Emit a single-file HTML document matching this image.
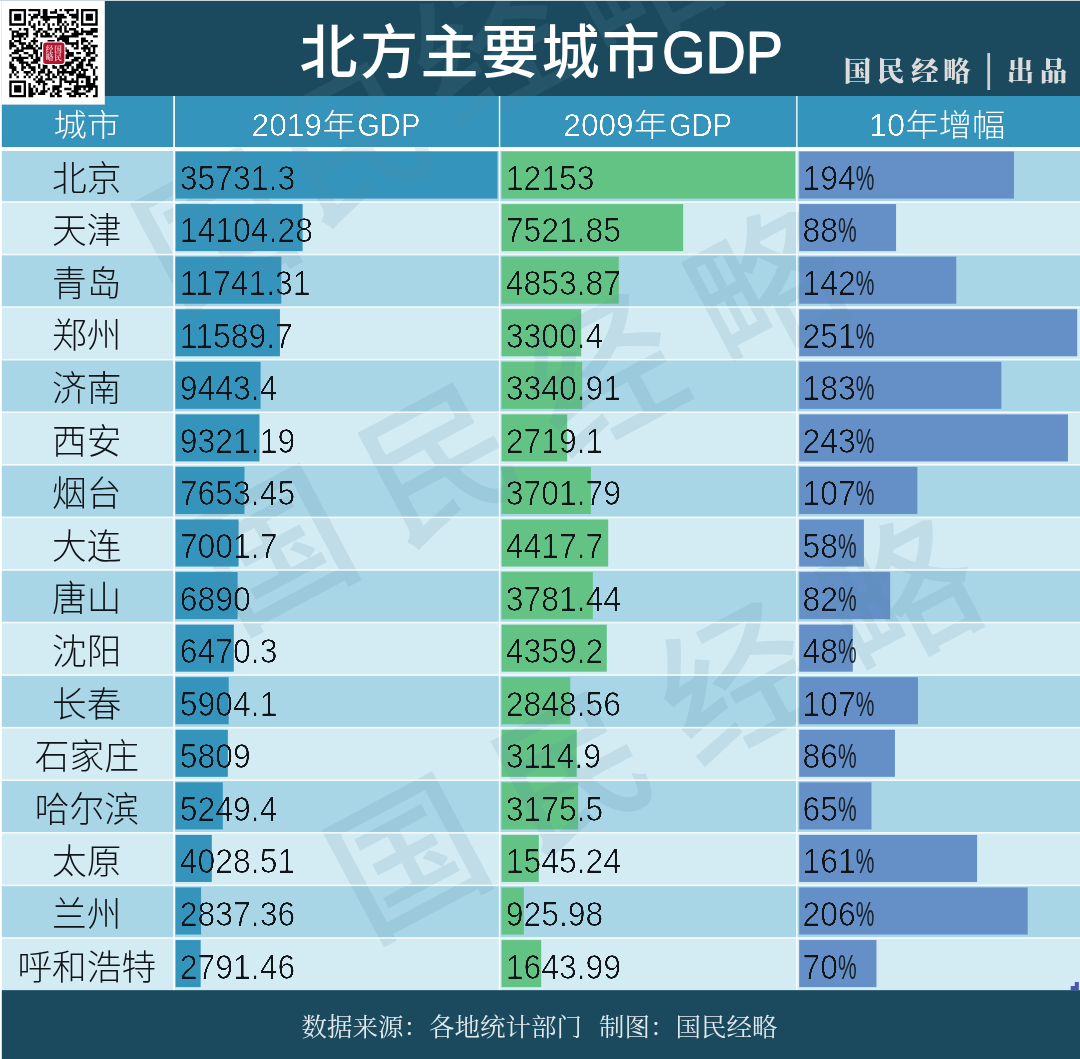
<!DOCTYPE html>
<html lang="zh-CN">
<head>
<meta charset="utf-8">
<title>北方主要城市GDP</title>
<style>
html,body{margin:0;padding:0;background:#1b4a5e;}
body{width:1080px;height:1059px;overflow:hidden;font-family:'Liberation Sans','Noto Sans CJK SC',sans-serif;}
svg{display:block;}
text{white-space:pre;}
</style>
</head>
<body>
<svg width="1080" height="1059" viewBox="0 0 1080 1059">
<defs>
<filter id="thinK" x="-2%" y="-10%" width="104%" height="120%" color-interpolation-filters="sRGB"><feGaussianBlur in="SourceAlpha" stdDeviation="0.6"/><feComponentTransfer result="t"><feFuncA type="linear" slope="3.2" intercept="-2.1"/></feComponentTransfer><feFlood flood-color="#101418"/><feComposite in2="t" operator="in"/></filter>
<filter id="thinW" x="-2%" y="-10%" width="104%" height="120%" color-interpolation-filters="sRGB"><feGaussianBlur in="SourceAlpha" stdDeviation="0.55"/><feComponentTransfer result="t"><feFuncA type="linear" slope="3" intercept="-1.7"/></feComponentTransfer><feFlood flood-color="#ffffff"/><feComposite in2="t" operator="in"/></filter>
</defs>
<rect x="0" y="0" width="1080" height="1059" fill="#1b4a5e"/>
<rect x="0" y="96" width="1080" height="51.5" fill="#3494bc"/>
<rect x="0" y="147" width="1080" height="5" fill="#ffffff"/>
<rect x="0" y="151.00" width="1080" height="50.97" fill="#a9d6e6"/>
<rect x="0" y="201.97" width="1080" height="52.57" fill="#d3ebf3"/>
<rect x="0" y="254.54" width="1080" height="52.57" fill="#a9d6e6"/>
<rect x="0" y="307.11" width="1080" height="52.57" fill="#d3ebf3"/>
<rect x="0" y="359.68" width="1080" height="52.57" fill="#a9d6e6"/>
<rect x="0" y="412.25" width="1080" height="52.57" fill="#d3ebf3"/>
<rect x="0" y="464.82" width="1080" height="52.57" fill="#a9d6e6"/>
<rect x="0" y="517.39" width="1080" height="52.57" fill="#d3ebf3"/>
<rect x="0" y="569.96" width="1080" height="52.57" fill="#a9d6e6"/>
<rect x="0" y="622.53" width="1080" height="52.57" fill="#d3ebf3"/>
<rect x="0" y="675.10" width="1080" height="52.57" fill="#a9d6e6"/>
<rect x="0" y="727.67" width="1080" height="52.57" fill="#d3ebf3"/>
<rect x="0" y="780.24" width="1080" height="52.57" fill="#a9d6e6"/>
<rect x="0" y="832.81" width="1080" height="52.57" fill="#d3ebf3"/>
<rect x="0" y="885.38" width="1080" height="52.57" fill="#a9d6e6"/>
<rect x="0" y="937.95" width="1080" height="52.57" fill="#d3ebf3"/>
<rect x="175.5" y="151.50" width="322.00" height="47.07" fill="#3494bc"/>
<rect x="501.5" y="151.50" width="293.50" height="47.07" fill="#63c384"/>
<rect x="799.2" y="151.50" width="214.74" height="47.07" fill="#648fc7"/>
<rect x="175.5" y="204.07" width="127.10" height="47.07" fill="#3494bc"/>
<rect x="501.5" y="204.07" width="181.66" height="47.07" fill="#63c384"/>
<rect x="799.2" y="204.07" width="96.86" height="47.07" fill="#648fc7"/>
<rect x="175.5" y="256.64" width="105.81" height="47.07" fill="#3494bc"/>
<rect x="501.5" y="256.64" width="117.22" height="47.07" fill="#63c384"/>
<rect x="799.2" y="256.64" width="157.06" height="47.07" fill="#648fc7"/>
<rect x="175.5" y="309.21" width="104.44" height="47.07" fill="#3494bc"/>
<rect x="501.5" y="309.21" width="79.71" height="47.07" fill="#63c384"/>
<rect x="799.2" y="309.21" width="278.00" height="47.07" fill="#648fc7"/>
<rect x="175.5" y="361.78" width="85.10" height="47.07" fill="#3494bc"/>
<rect x="501.5" y="361.78" width="80.68" height="47.07" fill="#63c384"/>
<rect x="799.2" y="361.78" width="202.18" height="47.07" fill="#648fc7"/>
<rect x="175.5" y="414.35" width="84.00" height="47.07" fill="#3494bc"/>
<rect x="501.5" y="414.35" width="65.67" height="47.07" fill="#63c384"/>
<rect x="799.2" y="414.35" width="268.75" height="47.07" fill="#648fc7"/>
<rect x="175.5" y="466.92" width="68.97" height="47.07" fill="#3494bc"/>
<rect x="501.5" y="466.92" width="89.40" height="47.07" fill="#63c384"/>
<rect x="799.2" y="466.92" width="118.16" height="47.07" fill="#648fc7"/>
<rect x="175.5" y="519.49" width="63.10" height="47.07" fill="#3494bc"/>
<rect x="501.5" y="519.49" width="106.69" height="47.07" fill="#63c384"/>
<rect x="799.2" y="519.49" width="64.74" height="47.07" fill="#648fc7"/>
<rect x="175.5" y="572.06" width="62.09" height="47.07" fill="#3494bc"/>
<rect x="501.5" y="572.06" width="91.32" height="47.07" fill="#63c384"/>
<rect x="799.2" y="572.06" width="90.99" height="47.07" fill="#648fc7"/>
<rect x="175.5" y="624.63" width="58.31" height="47.07" fill="#3494bc"/>
<rect x="501.5" y="624.63" width="105.28" height="47.07" fill="#63c384"/>
<rect x="799.2" y="624.63" width="53.60" height="47.07" fill="#648fc7"/>
<rect x="175.5" y="677.20" width="53.21" height="47.07" fill="#3494bc"/>
<rect x="501.5" y="677.20" width="68.79" height="47.07" fill="#63c384"/>
<rect x="799.2" y="677.20" width="118.73" height="47.07" fill="#648fc7"/>
<rect x="175.5" y="729.77" width="52.35" height="47.07" fill="#3494bc"/>
<rect x="501.5" y="729.77" width="75.23" height="47.07" fill="#63c384"/>
<rect x="799.2" y="729.77" width="95.73" height="47.07" fill="#648fc7"/>
<rect x="175.5" y="782.34" width="47.31" height="47.07" fill="#3494bc"/>
<rect x="501.5" y="782.34" width="76.69" height="47.07" fill="#63c384"/>
<rect x="799.2" y="782.34" width="72.29" height="47.07" fill="#648fc7"/>
<rect x="175.5" y="834.91" width="36.30" height="47.07" fill="#3494bc"/>
<rect x="501.5" y="834.91" width="37.32" height="47.07" fill="#63c384"/>
<rect x="799.2" y="834.91" width="177.88" height="47.07" fill="#648fc7"/>
<rect x="175.5" y="887.48" width="25.57" height="47.07" fill="#3494bc"/>
<rect x="501.5" y="887.48" width="22.36" height="47.07" fill="#63c384"/>
<rect x="799.2" y="887.48" width="228.48" height="47.07" fill="#648fc7"/>
<rect x="175.5" y="940.05" width="25.16" height="47.07" fill="#3494bc"/>
<rect x="501.5" y="940.05" width="39.70" height="47.07" fill="#63c384"/>
<rect x="799.2" y="940.05" width="77.26" height="47.07" fill="#648fc7"/>
<g id="wm" font-family="'Liberation Sans','Noto Sans CJK SC',sans-serif" font-weight="500" font-size="150" fill="#5a8cab" fill-opacity="0.16" text-anchor="middle">
<text transform="translate(215.0,230.0) rotate(-28.0)" y="57.0">国</text>
<text transform="translate(352.0,140.0) rotate(-28.0)" y="57.0">民</text>
<text transform="translate(489.0,46.0) rotate(-28.0)" y="57.0">经</text>
<text transform="translate(640.0,-28.0) rotate(-28.0)" y="57.0">略</text>
<text transform="translate(273.7,548.0) rotate(-28.0)" y="57.0">国</text>
<text transform="translate(437.9,460.7) rotate(-28.0)" y="57.0">民</text>
<text transform="translate(602.1,373.3) rotate(-28.0)" y="57.0">经</text>
<text transform="translate(766.3,286.0) rotate(-28.0)" y="57.0">略</text>
<text transform="translate(406.7,856.5) rotate(-28.0)" y="57.0">国</text>
<text transform="translate(570.9,769.2) rotate(-28.0)" y="57.0">民</text>
<text transform="translate(735.1,681.8) rotate(-28.0)" y="57.0">经</text>
<text transform="translate(899.3,594.5) rotate(-28.0)" y="57.0">略</text>
</g>
<rect x="0" y="201.17" width="1080" height="1.6" fill="#ffffff" fill-opacity="0.9"/>
<rect x="0" y="253.74" width="1080" height="1.6" fill="#ffffff" fill-opacity="0.9"/>
<rect x="0" y="306.31" width="1080" height="1.6" fill="#ffffff" fill-opacity="0.9"/>
<rect x="0" y="358.88" width="1080" height="1.6" fill="#ffffff" fill-opacity="0.9"/>
<rect x="0" y="411.45" width="1080" height="1.6" fill="#ffffff" fill-opacity="0.9"/>
<rect x="0" y="464.02" width="1080" height="1.6" fill="#ffffff" fill-opacity="0.9"/>
<rect x="0" y="516.59" width="1080" height="1.6" fill="#ffffff" fill-opacity="0.9"/>
<rect x="0" y="569.16" width="1080" height="1.6" fill="#ffffff" fill-opacity="0.9"/>
<rect x="0" y="621.73" width="1080" height="1.6" fill="#ffffff" fill-opacity="0.9"/>
<rect x="0" y="674.30" width="1080" height="1.6" fill="#ffffff" fill-opacity="0.9"/>
<rect x="0" y="726.87" width="1080" height="1.6" fill="#ffffff" fill-opacity="0.9"/>
<rect x="0" y="779.44" width="1080" height="1.6" fill="#ffffff" fill-opacity="0.9"/>
<rect x="0" y="832.01" width="1080" height="1.6" fill="#ffffff" fill-opacity="0.9"/>
<rect x="0" y="884.58" width="1080" height="1.6" fill="#ffffff" fill-opacity="0.9"/>
<rect x="0" y="937.15" width="1080" height="1.6" fill="#ffffff" fill-opacity="0.9"/>
<rect x="173.2" y="96" width="1.8" height="894.5" fill="#ffffff" fill-opacity="0.95"/>
<rect x="498.8" y="96" width="1.5" height="894" fill="#ffffff" fill-opacity="0.9"/>
<rect x="796.1" y="96" width="1.5" height="894" fill="#ffffff" fill-opacity="0.9"/>
<rect x="0" y="990.3" width="1080" height="69" fill="#1b4a5e"/>
<path d="M1074.8 982.1h4v7.9h-8.1v-4h4.1z" fill="#4a56b2"/>
<rect x="0" y="0" width="1.8" height="1059" fill="#ffffff"/>
<rect x="0" y="0" width="1080" height="1" fill="#c9d6dc"/>
<rect x="1.5" y="1" width="103.3" height="103.6" fill="#ffffff"/>
<path fill="#000000" d="M9.30 8.90h16.72v2.39h-16.72zM28.41 8.90h11.95v2.39h-11.95zM42.75 8.90h4.78v2.39h-4.78zM54.69 8.90h2.39v2.39h-2.39zM59.47 8.90h2.39v2.39h-2.39zM64.25 8.90h9.56v2.39h-9.56zM76.20 8.90h2.39v2.39h-2.39zM80.98 8.90h16.72v2.39h-16.72zM9.30 11.29h2.39v2.39h-2.39zM23.64 11.29h2.39v2.39h-2.39zM37.97 11.29h2.39v2.39h-2.39zM42.75 11.29h4.78v2.39h-4.78zM49.92 11.29h7.17v2.39h-7.17zM66.64 11.29h2.39v2.39h-2.39zM76.20 11.29h2.39v2.39h-2.39zM80.98 11.29h2.39v2.39h-2.39zM95.31 11.29h2.39v2.39h-2.39zM9.30 13.68h2.39v2.39h-2.39zM14.08 13.68h7.17v2.39h-7.17zM23.64 13.68h2.39v2.39h-2.39zM28.41 13.68h2.39v2.39h-2.39zM33.19 13.68h7.17v2.39h-7.17zM42.75 13.68h4.78v2.39h-4.78zM57.08 13.68h7.17v2.39h-7.17zM69.03 13.68h9.56v2.39h-9.56zM80.98 13.68h2.39v2.39h-2.39zM85.75 13.68h7.17v2.39h-7.17zM95.31 13.68h2.39v2.39h-2.39zM9.30 16.07h2.39v2.39h-2.39zM14.08 16.07h7.17v2.39h-7.17zM23.64 16.07h2.39v2.39h-2.39zM30.80 16.07h7.17v2.39h-7.17zM40.36 16.07h26.28v2.39h-26.28zM71.42 16.07h7.17v2.39h-7.17zM80.98 16.07h2.39v2.39h-2.39zM85.75 16.07h7.17v2.39h-7.17zM95.31 16.07h2.39v2.39h-2.39zM9.30 18.46h2.39v2.39h-2.39zM14.08 18.46h7.17v2.39h-7.17zM23.64 18.46h2.39v2.39h-2.39zM30.80 18.46h2.39v2.39h-2.39zM42.75 18.46h7.17v2.39h-7.17zM57.08 18.46h4.78v2.39h-4.78zM76.20 18.46h2.39v2.39h-2.39zM80.98 18.46h2.39v2.39h-2.39zM85.75 18.46h7.17v2.39h-7.17zM95.31 18.46h2.39v2.39h-2.39zM9.30 20.85h2.39v2.39h-2.39zM23.64 20.85h2.39v2.39h-2.39zM28.41 20.85h2.39v2.39h-2.39zM37.97 20.85h2.39v2.39h-2.39zM45.14 20.85h2.39v2.39h-2.39zM57.08 20.85h4.78v2.39h-4.78zM64.25 20.85h2.39v2.39h-2.39zM71.42 20.85h4.78v2.39h-4.78zM80.98 20.85h2.39v2.39h-2.39zM95.31 20.85h2.39v2.39h-2.39zM9.30 23.24h16.72v2.39h-16.72zM28.41 23.24h2.39v2.39h-2.39zM33.19 23.24h2.39v2.39h-2.39zM37.97 23.24h2.39v2.39h-2.39zM42.75 23.24h2.39v2.39h-2.39zM47.53 23.24h2.39v2.39h-2.39zM52.31 23.24h2.39v2.39h-2.39zM57.08 23.24h2.39v2.39h-2.39zM61.86 23.24h2.39v2.39h-2.39zM66.64 23.24h2.39v2.39h-2.39zM71.42 23.24h2.39v2.39h-2.39zM76.20 23.24h2.39v2.39h-2.39zM80.98 23.24h16.72v2.39h-16.72zM30.80 25.62h4.78v2.39h-4.78zM47.53 25.62h2.39v2.39h-2.39zM59.47 25.62h2.39v2.39h-2.39zM64.25 25.62h2.39v2.39h-2.39zM76.20 25.62h2.39v2.39h-2.39zM9.30 28.01h2.39v2.39h-2.39zM18.86 28.01h2.39v2.39h-2.39zM23.64 28.01h4.78v2.39h-4.78zM33.19 28.01h2.39v2.39h-2.39zM37.97 28.01h4.78v2.39h-4.78zM47.53 28.01h4.78v2.39h-4.78zM54.69 28.01h7.17v2.39h-7.17zM64.25 28.01h2.39v2.39h-2.39zM69.03 28.01h7.17v2.39h-7.17zM80.98 28.01h2.39v2.39h-2.39zM90.53 28.01h7.17v2.39h-7.17zM11.69 30.40h7.17v2.39h-7.17zM26.02 30.40h2.39v2.39h-2.39zM35.58 30.40h4.78v2.39h-4.78zM42.75 30.40h4.78v2.39h-4.78zM54.69 30.40h2.39v2.39h-2.39zM59.47 30.40h2.39v2.39h-2.39zM64.25 30.40h4.78v2.39h-4.78zM73.81 30.40h4.78v2.39h-4.78zM80.98 30.40h16.72v2.39h-16.72zM11.69 32.79h2.39v2.39h-2.39zM16.47 32.79h11.95v2.39h-11.95zM33.19 32.79h4.78v2.39h-4.78zM40.36 32.79h2.39v2.39h-2.39zM45.14 32.79h4.78v2.39h-4.78zM52.31 32.79h2.39v2.39h-2.39zM61.86 32.79h2.39v2.39h-2.39zM71.42 32.79h11.95v2.39h-11.95zM85.75 32.79h7.17v2.39h-7.17zM11.69 35.18h11.95v2.39h-11.95zM26.02 35.18h2.39v2.39h-2.39zM35.58 35.18h2.39v2.39h-2.39zM40.36 35.18h11.95v2.39h-11.95zM54.69 35.18h2.39v2.39h-2.39zM59.47 35.18h19.11v2.39h-19.11zM92.92 35.18h4.78v2.39h-4.78zM11.69 37.57h2.39v2.39h-2.39zM18.86 37.57h2.39v2.39h-2.39zM23.64 37.57h2.39v2.39h-2.39zM33.19 37.57h2.39v2.39h-2.39zM57.08 37.57h11.95v2.39h-11.95zM80.98 37.57h4.78v2.39h-4.78zM9.30 39.96h2.39v2.39h-2.39zM14.08 39.96h7.17v2.39h-7.17zM30.80 39.96h7.17v2.39h-7.17zM47.53 39.96h7.17v2.39h-7.17zM57.08 39.96h2.39v2.39h-2.39zM61.86 39.96h7.17v2.39h-7.17zM76.20 39.96h2.39v2.39h-2.39zM80.98 39.96h7.17v2.39h-7.17zM90.53 39.96h2.39v2.39h-2.39zM9.30 42.35h4.78v2.39h-4.78zM18.86 42.35h7.17v2.39h-7.17zM28.41 42.35h2.39v2.39h-2.39zM33.19 42.35h2.39v2.39h-2.39zM40.36 42.35h2.39v2.39h-2.39zM52.31 42.35h2.39v2.39h-2.39zM57.08 42.35h21.50v2.39h-21.50zM80.98 42.35h2.39v2.39h-2.39zM88.14 42.35h2.39v2.39h-2.39zM9.30 44.74h7.17v2.39h-7.17zM21.25 44.74h2.39v2.39h-2.39zM26.02 44.74h7.17v2.39h-7.17zM35.58 44.74h2.39v2.39h-2.39zM40.36 44.74h4.78v2.39h-4.78zM47.53 44.74h4.78v2.39h-4.78zM71.42 44.74h2.39v2.39h-2.39zM76.20 44.74h2.39v2.39h-2.39zM83.36 44.74h4.78v2.39h-4.78zM90.53 44.74h7.17v2.39h-7.17zM9.30 47.13h2.39v2.39h-2.39zM16.47 47.13h2.39v2.39h-2.39zM21.25 47.13h14.34v2.39h-14.34zM37.97 47.13h4.78v2.39h-4.78zM47.53 47.13h19.11v2.39h-19.11zM73.81 47.13h4.78v2.39h-4.78zM80.98 47.13h9.56v2.39h-9.56zM92.92 47.13h2.39v2.39h-2.39zM14.08 49.52h9.56v2.39h-9.56zM33.19 49.52h4.78v2.39h-4.78zM42.75 49.52h2.39v2.39h-2.39zM47.53 49.52h4.78v2.39h-4.78zM61.86 49.52h7.17v2.39h-7.17zM83.36 49.52h2.39v2.39h-2.39zM88.14 49.52h2.39v2.39h-2.39zM92.92 49.52h2.39v2.39h-2.39zM11.69 51.91h7.17v2.39h-7.17zM23.64 51.91h4.78v2.39h-4.78zM33.19 51.91h4.78v2.39h-4.78zM40.36 51.91h7.17v2.39h-7.17zM54.69 51.91h7.17v2.39h-7.17zM66.64 51.91h7.17v2.39h-7.17zM76.20 51.91h4.78v2.39h-4.78zM85.75 51.91h9.56v2.39h-9.56zM9.30 54.29h2.39v2.39h-2.39zM18.86 54.29h2.39v2.39h-2.39zM28.41 54.29h4.78v2.39h-4.78zM35.58 54.29h2.39v2.39h-2.39zM40.36 54.29h9.56v2.39h-9.56zM54.69 54.29h7.17v2.39h-7.17zM64.25 54.29h9.56v2.39h-9.56zM85.75 54.29h4.78v2.39h-4.78zM95.31 54.29h2.39v2.39h-2.39zM11.69 56.68h16.72v2.39h-16.72zM30.80 56.68h2.39v2.39h-2.39zM35.58 56.68h4.78v2.39h-4.78zM45.14 56.68h9.56v2.39h-9.56zM57.08 56.68h4.78v2.39h-4.78zM64.25 56.68h4.78v2.39h-4.78zM73.81 56.68h7.17v2.39h-7.17zM83.36 56.68h2.39v2.39h-2.39zM90.53 56.68h4.78v2.39h-4.78zM11.69 59.07h2.39v2.39h-2.39zM16.47 59.07h7.17v2.39h-7.17zM33.19 59.07h7.17v2.39h-7.17zM45.14 59.07h9.56v2.39h-9.56zM57.08 59.07h2.39v2.39h-2.39zM71.42 59.07h7.17v2.39h-7.17zM80.98 59.07h4.78v2.39h-4.78zM88.14 59.07h7.17v2.39h-7.17zM9.30 61.46h2.39v2.39h-2.39zM18.86 61.46h9.56v2.39h-9.56zM30.80 61.46h7.17v2.39h-7.17zM49.92 61.46h2.39v2.39h-2.39zM54.69 61.46h2.39v2.39h-2.39zM59.47 61.46h2.39v2.39h-2.39zM64.25 61.46h9.56v2.39h-9.56zM78.59 61.46h4.78v2.39h-4.78zM88.14 61.46h2.39v2.39h-2.39zM9.30 63.85h4.78v2.39h-4.78zM21.25 63.85h2.39v2.39h-2.39zM26.02 63.85h4.78v2.39h-4.78zM37.97 63.85h2.39v2.39h-2.39zM42.75 63.85h4.78v2.39h-4.78zM52.31 63.85h2.39v2.39h-2.39zM59.47 63.85h11.95v2.39h-11.95zM76.20 63.85h7.17v2.39h-7.17zM85.75 63.85h7.17v2.39h-7.17zM9.30 66.24h7.17v2.39h-7.17zM21.25 66.24h4.78v2.39h-4.78zM28.41 66.24h7.17v2.39h-7.17zM37.97 66.24h2.39v2.39h-2.39zM42.75 66.24h4.78v2.39h-4.78zM52.31 66.24h4.78v2.39h-4.78zM59.47 66.24h4.78v2.39h-4.78zM66.64 66.24h2.39v2.39h-2.39zM71.42 66.24h2.39v2.39h-2.39zM76.20 66.24h7.17v2.39h-7.17zM90.53 66.24h2.39v2.39h-2.39zM95.31 66.24h2.39v2.39h-2.39zM11.69 68.63h4.78v2.39h-4.78zM21.25 68.63h2.39v2.39h-2.39zM30.80 68.63h4.78v2.39h-4.78zM40.36 68.63h4.78v2.39h-4.78zM47.53 68.63h2.39v2.39h-2.39zM57.08 68.63h2.39v2.39h-2.39zM61.86 68.63h4.78v2.39h-4.78zM71.42 68.63h7.17v2.39h-7.17zM80.98 68.63h7.17v2.39h-7.17zM92.92 68.63h2.39v2.39h-2.39zM11.69 71.02h2.39v2.39h-2.39zM16.47 71.02h2.39v2.39h-2.39zM23.64 71.02h7.17v2.39h-7.17zM33.19 71.02h2.39v2.39h-2.39zM37.97 71.02h7.17v2.39h-7.17zM47.53 71.02h4.78v2.39h-4.78zM57.08 71.02h19.11v2.39h-19.11zM78.59 71.02h2.39v2.39h-2.39zM83.36 71.02h2.39v2.39h-2.39zM92.92 71.02h2.39v2.39h-2.39zM9.30 73.41h2.39v2.39h-2.39zM14.08 73.41h2.39v2.39h-2.39zM26.02 73.41h2.39v2.39h-2.39zM30.80 73.41h2.39v2.39h-2.39zM37.97 73.41h2.39v2.39h-2.39zM45.14 73.41h4.78v2.39h-4.78zM52.31 73.41h2.39v2.39h-2.39zM57.08 73.41h2.39v2.39h-2.39zM61.86 73.41h2.39v2.39h-2.39zM69.03 73.41h4.78v2.39h-4.78zM76.20 73.41h9.56v2.39h-9.56zM92.92 73.41h2.39v2.39h-2.39zM9.30 75.80h2.39v2.39h-2.39zM16.47 75.80h2.39v2.39h-2.39zM23.64 75.80h2.39v2.39h-2.39zM28.41 75.80h2.39v2.39h-2.39zM35.58 75.80h2.39v2.39h-2.39zM40.36 75.80h2.39v2.39h-2.39zM47.53 75.80h2.39v2.39h-2.39zM52.31 75.80h4.78v2.39h-4.78zM59.47 75.80h2.39v2.39h-2.39zM64.25 75.80h2.39v2.39h-2.39zM76.20 75.80h14.34v2.39h-14.34zM95.31 75.80h2.39v2.39h-2.39zM33.19 78.19h2.39v2.39h-2.39zM37.97 78.19h4.78v2.39h-4.78zM45.14 78.19h7.17v2.39h-7.17zM59.47 78.19h7.17v2.39h-7.17zM71.42 78.19h2.39v2.39h-2.39zM76.20 78.19h2.39v2.39h-2.39zM85.75 78.19h4.78v2.39h-4.78zM92.92 78.19h4.78v2.39h-4.78zM9.30 80.58h16.72v2.39h-16.72zM35.58 80.58h9.56v2.39h-9.56zM52.31 80.58h2.39v2.39h-2.39zM59.47 80.58h2.39v2.39h-2.39zM64.25 80.58h14.34v2.39h-14.34zM80.98 80.58h2.39v2.39h-2.39zM85.75 80.58h4.78v2.39h-4.78zM92.92 80.58h2.39v2.39h-2.39zM9.30 82.96h2.39v2.39h-2.39zM23.64 82.96h2.39v2.39h-2.39zM28.41 82.96h2.39v2.39h-2.39zM37.97 82.96h2.39v2.39h-2.39zM42.75 82.96h4.78v2.39h-4.78zM59.47 82.96h2.39v2.39h-2.39zM69.03 82.96h2.39v2.39h-2.39zM76.20 82.96h2.39v2.39h-2.39zM85.75 82.96h9.56v2.39h-9.56zM9.30 85.35h2.39v2.39h-2.39zM14.08 85.35h7.17v2.39h-7.17zM23.64 85.35h2.39v2.39h-2.39zM28.41 85.35h2.39v2.39h-2.39zM33.19 85.35h2.39v2.39h-2.39zM42.75 85.35h2.39v2.39h-2.39zM52.31 85.35h9.56v2.39h-9.56zM73.81 85.35h23.89v2.39h-23.89zM9.30 87.74h2.39v2.39h-2.39zM14.08 87.74h7.17v2.39h-7.17zM23.64 87.74h2.39v2.39h-2.39zM28.41 87.74h4.78v2.39h-4.78zM35.58 87.74h2.39v2.39h-2.39zM42.75 87.74h2.39v2.39h-2.39zM47.53 87.74h2.39v2.39h-2.39zM52.31 87.74h7.17v2.39h-7.17zM64.25 87.74h7.17v2.39h-7.17zM73.81 87.74h7.17v2.39h-7.17zM83.36 87.74h2.39v2.39h-2.39zM88.14 87.74h4.78v2.39h-4.78zM95.31 87.74h2.39v2.39h-2.39zM9.30 90.13h2.39v2.39h-2.39zM14.08 90.13h7.17v2.39h-7.17zM23.64 90.13h2.39v2.39h-2.39zM28.41 90.13h4.78v2.39h-4.78zM35.58 90.13h2.39v2.39h-2.39zM40.36 90.13h7.17v2.39h-7.17zM52.31 90.13h2.39v2.39h-2.39zM57.08 90.13h4.78v2.39h-4.78zM71.42 90.13h7.17v2.39h-7.17zM85.75 90.13h4.78v2.39h-4.78zM95.31 90.13h2.39v2.39h-2.39zM9.30 92.52h2.39v2.39h-2.39zM23.64 92.52h2.39v2.39h-2.39zM28.41 92.52h7.17v2.39h-7.17zM37.97 92.52h7.17v2.39h-7.17zM49.92 92.52h2.39v2.39h-2.39zM54.69 92.52h4.78v2.39h-4.78zM66.64 92.52h4.78v2.39h-4.78zM73.81 92.52h11.95v2.39h-11.95zM95.31 92.52h2.39v2.39h-2.39zM9.30 94.91h16.72v2.39h-16.72zM28.41 94.91h4.78v2.39h-4.78zM49.92 94.91h4.78v2.39h-4.78zM57.08 94.91h4.78v2.39h-4.78zM69.03 94.91h7.17v2.39h-7.17zM78.59 94.91h2.39v2.39h-2.39zM85.75 94.91h2.39v2.39h-2.39zM92.92 94.91h4.78v2.39h-4.78z"/>
<rect x="42" y="41.5" width="23.5" height="23.5" rx="3.5" fill="#ffffff"/>
<rect x="43.2" y="42.6" width="21.2" height="21.4" rx="3" fill="#b3122f"/>
<text font-family="'Liberation Serif','Noto Serif CJK SC',serif" font-weight="700" font-size="7.6" fill="#f3c9cf" x="54.3 54.3 45.8 45.8" y="51.6 60.4 51.6 60.4">国民经略</text>
<text font-family="'Liberation Sans','Noto Sans CJK SC',sans-serif" font-weight="500" font-size="58" fill="#ffffff" y="72.6" x="299.5 360 420.5 481 541.5 602">北方主要城市</text>
<text font-family="'Liberation Sans','Noto Sans CJK SC',sans-serif" font-weight="400" font-size="58.5" fill="#ffffff" stroke="#ffffff" stroke-width="1.1" stroke-linejoin="round" transform="translate(662.0,72.6) scale(0.955,1)">GDP</text>
<text font-family="'Liberation Serif','Noto Serif CJK SC',serif" font-weight="900" font-size="27.5" fill="#dcdcdc" y="81.3" x="843.7 877 911 943">国民经略</text>
<rect x="987.3" y="53" width="2.8" height="37" fill="#cfcfcf"/>
<text font-family="'Liberation Serif','Noto Serif CJK SC',serif" font-weight="900" font-size="27.5" fill="#dcdcdc" y="81.3" x="1006.8 1039.8">出品</text>
<text font-family="'Liberation Sans','Noto Sans CJK SC',sans-serif" font-weight="300" font-size="31" fill="#ffffff" text-anchor="middle" transform="translate(86.7,136.2) scale(1.075,1)">城市</text>
<text font-family="'Liberation Sans','Noto Sans CJK SC',sans-serif" font-weight="300" font-size="31" fill="#ffffff" text-anchor="start" filter="url(#thinW)" transform="translate(251.6,136.2) scale(1.02,1)">2019</text>
<text font-family="'Liberation Sans','Noto Sans CJK SC',sans-serif" font-weight="300" font-size="31" fill="#ffffff" text-anchor="start" transform="translate(322.4,136.2) scale(1.075,1)">年</text>
<text font-family="'Liberation Sans','Noto Sans CJK SC',sans-serif" font-weight="300" font-size="31" fill="#ffffff" text-anchor="start" filter="url(#thinW)" transform="translate(357.2,136.2) scale(0.94,1)">GDP</text>
<text font-family="'Liberation Sans','Noto Sans CJK SC',sans-serif" font-weight="300" font-size="31" fill="#ffffff" text-anchor="start" filter="url(#thinW)" transform="translate(563.3,136.2) scale(1.02,1)">2009</text>
<text font-family="'Liberation Sans','Noto Sans CJK SC',sans-serif" font-weight="300" font-size="31" fill="#ffffff" text-anchor="start" transform="translate(634.0999999999999,136.2) scale(1.075,1)">年</text>
<text font-family="'Liberation Sans','Noto Sans CJK SC',sans-serif" font-weight="300" font-size="31" fill="#ffffff" text-anchor="start" filter="url(#thinW)" transform="translate(668.9,136.2) scale(0.94,1)">GDP</text>
<text font-family="'Liberation Sans','Noto Sans CJK SC',sans-serif" font-weight="300" font-size="31" fill="#ffffff" text-anchor="start" filter="url(#thinW)" transform="translate(868.9,136.2) scale(1.05,1)">10</text>
<text font-family="'Liberation Sans','Noto Sans CJK SC',sans-serif" font-weight="300" font-size="31" fill="#ffffff" text-anchor="start" transform="translate(905.4,136.2) scale(1.075,1)">年增幅</text>
<g font-family="'Liberation Sans','Noto Sans CJK SC',sans-serif" font-weight="300" font-size="34.7" fill="#101418" text-anchor="middle">
<text x="86.8" y="190.50">北京</text>
<text x="86.8" y="243.10">天津</text>
<text x="86.8" y="295.70">青岛</text>
<text x="86.8" y="348.30">郑州</text>
<text x="86.8" y="400.90">济南</text>
<text x="86.8" y="453.50">西安</text>
<text x="86.8" y="506.10">烟台</text>
<text x="86.8" y="558.70">大连</text>
<text x="86.8" y="611.30">唐山</text>
<text x="86.8" y="663.90">沈阳</text>
<text x="86.8" y="716.50">长春</text>
<text x="86.8" y="769.10">石家庄</text>
<text x="86.8" y="821.70">哈尔滨</text>
<text x="86.8" y="874.30">太原</text>
<text x="86.8" y="926.90">兰州</text>
<text x="86.8" y="979.50">呼和浩特</text>
</g>
<g font-family="'Liberation Sans','Noto Sans CJK SC',sans-serif" font-weight="300" font-size="35.0" fill="#101418" filter="url(#thinK)">
<text transform="translate(179.8,189.80) scale(0.912,1)">35731.3</text>
<text transform="translate(505.7,189.80) scale(0.912,1)">12153</text>
<text transform="translate(802.4,189.80) scale(0.912,1)">194</text>
<text transform="translate(179.8,242.39) scale(0.912,1)">14104.28</text>
<text transform="translate(505.7,242.39) scale(0.912,1)">7521.85</text>
<text transform="translate(802.4,242.39) scale(0.912,1)">88</text>
<text transform="translate(179.8,294.98) scale(0.912,1)">11741.31</text>
<text transform="translate(505.7,294.98) scale(0.912,1)">4853.87</text>
<text transform="translate(802.4,294.98) scale(0.912,1)">142</text>
<text transform="translate(179.8,347.57) scale(0.912,1)">11589.7</text>
<text transform="translate(505.7,347.57) scale(0.912,1)">3300.4</text>
<text transform="translate(802.4,347.57) scale(0.912,1)">251</text>
<text transform="translate(179.8,400.16) scale(0.912,1)">9443.4</text>
<text transform="translate(505.7,400.16) scale(0.912,1)">3340.91</text>
<text transform="translate(802.4,400.16) scale(0.912,1)">183</text>
<text transform="translate(179.8,452.75) scale(0.912,1)">9321.19</text>
<text transform="translate(505.7,452.75) scale(0.912,1)">2719.1</text>
<text transform="translate(802.4,452.75) scale(0.912,1)">243</text>
<text transform="translate(179.8,505.34) scale(0.912,1)">7653.45</text>
<text transform="translate(505.7,505.34) scale(0.912,1)">3701.79</text>
<text transform="translate(802.4,505.34) scale(0.912,1)">107</text>
<text transform="translate(179.8,557.93) scale(0.912,1)">7001.7</text>
<text transform="translate(505.7,557.93) scale(0.912,1)">4417.7</text>
<text transform="translate(802.4,557.93) scale(0.912,1)">58</text>
<text transform="translate(179.8,610.52) scale(0.912,1)">6890</text>
<text transform="translate(505.7,610.52) scale(0.912,1)">3781.44</text>
<text transform="translate(802.4,610.52) scale(0.912,1)">82</text>
<text transform="translate(179.8,663.11) scale(0.912,1)">6470.3</text>
<text transform="translate(505.7,663.11) scale(0.912,1)">4359.2</text>
<text transform="translate(802.4,663.11) scale(0.912,1)">48</text>
<text transform="translate(179.8,715.70) scale(0.912,1)">5904.1</text>
<text transform="translate(505.7,715.70) scale(0.912,1)">2848.56</text>
<text transform="translate(802.4,715.70) scale(0.912,1)">107</text>
<text transform="translate(179.8,768.29) scale(0.912,1)">5809</text>
<text transform="translate(505.7,768.29) scale(0.912,1)">3114.9</text>
<text transform="translate(802.4,768.29) scale(0.912,1)">86</text>
<text transform="translate(179.8,820.88) scale(0.912,1)">5249.4</text>
<text transform="translate(505.7,820.88) scale(0.912,1)">3175.5</text>
<text transform="translate(802.4,820.88) scale(0.912,1)">65</text>
<text transform="translate(179.8,873.47) scale(0.912,1)">4028.51</text>
<text transform="translate(505.7,873.47) scale(0.912,1)">1545.24</text>
<text transform="translate(802.4,873.47) scale(0.912,1)">161</text>
<text transform="translate(179.8,926.06) scale(0.912,1)">2837.36</text>
<text transform="translate(505.7,926.06) scale(0.912,1)">925.98</text>
<text transform="translate(802.4,926.06) scale(0.912,1)">206</text>
<text transform="translate(179.8,978.65) scale(0.912,1)">2791.46</text>
<text transform="translate(505.7,978.65) scale(0.912,1)">1643.99</text>
<text transform="translate(802.4,978.65) scale(0.912,1)">70</text>
</g>
<g font-family="'Liberation Sans','Noto Sans CJK SC',sans-serif" font-weight="300" font-size="35.0" fill="#101418" fill-opacity="0.9">
<text transform="translate(855.86,189.80) scale(0.60,1)">%</text>
<text transform="translate(838.11,242.39) scale(0.60,1)">%</text>
<text transform="translate(855.86,294.98) scale(0.60,1)">%</text>
<text transform="translate(855.86,347.57) scale(0.60,1)">%</text>
<text transform="translate(855.86,400.16) scale(0.60,1)">%</text>
<text transform="translate(855.86,452.75) scale(0.60,1)">%</text>
<text transform="translate(855.86,505.34) scale(0.60,1)">%</text>
<text transform="translate(838.11,557.93) scale(0.60,1)">%</text>
<text transform="translate(838.11,610.52) scale(0.60,1)">%</text>
<text transform="translate(838.11,663.11) scale(0.60,1)">%</text>
<text transform="translate(855.86,715.70) scale(0.60,1)">%</text>
<text transform="translate(838.11,768.29) scale(0.60,1)">%</text>
<text transform="translate(838.11,820.88) scale(0.60,1)">%</text>
<text transform="translate(855.86,873.47) scale(0.60,1)">%</text>
<text transform="translate(855.86,926.06) scale(0.60,1)">%</text>
<text transform="translate(838.11,978.65) scale(0.60,1)">%</text>
</g>
<text font-family="'Liberation Serif','Noto Serif CJK SC',serif" font-weight="400" font-size="25.5" fill="#e3eaed" y="1036.3" x="301.5" textLength="280.5" lengthAdjust="spacing">数据来源：各地统计部门</text>
<text font-family="'Liberation Serif','Noto Serif CJK SC',serif" font-weight="400" font-size="25.5" fill="#e3eaed" y="1036.3" x="599" textLength="178.5" lengthAdjust="spacing">制图：国民经略</text>
</svg>
</body>
</html>
